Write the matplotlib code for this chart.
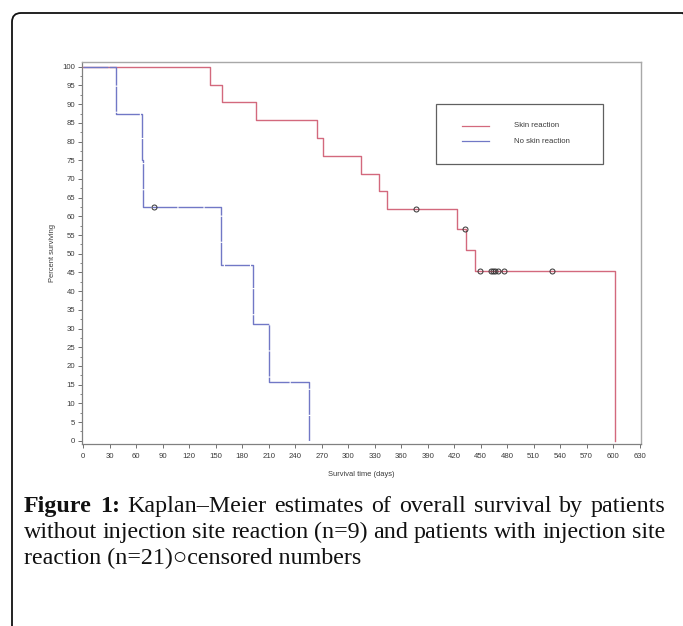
import matplotlib
matplotlib.use('Agg')
import matplotlib.pyplot as plt
from matplotlib.patches import FancyBboxPatch, Rectangle
from matplotlib.transforms import IdentityTransform
from matplotlib.ticker import MultipleLocator

# ---------------- data ----------------
skin_times = [0, 143, 157, 196, 265, 272, 315, 335, 344, 423, 433, 444, 602]
skin_surv = [100, 95.2, 90.5, 85.7, 81.0, 76.2, 71.4, 66.7, 61.9, 56.7, 51.1, 45.4, 0]
skin_cens_times = [377, 432, 449, 462, 464, 466, 470, 477, 531]
skin_cens_surv = [61.9, 56.7, 45.4, 45.4, 45.4, 45.4, 45.4, 45.4, 45.4]

noskin_times = [0, 37, 66, 68, 156, 192, 210, 256]
noskin_surv = [100, 87.5, 75, 62.5, 46.9, 31.3, 15.6, 0]
noskin_cens_times = [80]
noskin_cens_surv = [62.5]

series_labels = ["Skin reaction", "No skin reaction"]
x_ticks = list(range(0, 631, 30))
y_ticks = list(range(0, 101, 5))
x_label = "Survival time (days)"
y_label = "Percent surviving"
caption_lines = [
    "Figure 1: Kaplan\u2013Meier estimates of overall survival by patients",
    "without injection site reaction (n=9) and patients with injection site",
    "reaction (n=21)\u25cbcensored numbers",
]

# ---------------- styling ----------------
W, H = 683, 626
RED = '#D3697D'
BLUE = '#7178C6'
SANS = ['Liberation Sans', 'DejaVu Sans']
SERIF = ['Liberation Serif', 'DejaVu Serif']
TXT = '#3a3a3a'

fig = plt.figure(figsize=(W / 100, H / 100), dpi=100)
fig.patch.set_facecolor('white')

ax_left, ax_right, ax_top, ax_bot = 81.7, 641.0, 62.3, 444.3
ax = fig.add_axes([ax_left / W, (H - ax_bot) / H, (ax_right - ax_left) / W, (ax_bot - ax_top) / H])

ax.step(skin_times, skin_surv, where='post', color=RED, lw=1.0, zorder=3)
ax.step(noskin_times, noskin_surv, where='post', color=BLUE, lw=1.0,
        dashes=(18, 0.8), zorder=4)
ax.plot(skin_cens_times, skin_cens_surv, ls='none', marker='o', ms=3.6,
        mfc='none', mec='#333333', mew=0.7, zorder=5)
ax.plot(noskin_cens_times, noskin_cens_surv, ls='none', marker='o', ms=3.6,
        mfc='none', mec='#333333', mew=0.7, zorder=5)

ax.set_xlim(-1.8, 631.6)
ax.set_ylim(-0.96, 101.2)
ax.set_xticks(x_ticks)
ax.set_yticks(y_ticks)
ax.yaxis.set_minor_locator(MultipleLocator(2.5))
ax.tick_params(axis='both', which='major', direction='out', length=3, width=0.7,
               color='#707070', labelsize=5.6, labelcolor=TXT)
ax.tick_params(axis='y', which='minor', direction='out', length=1.8, width=0.6, color='#707070')
ax.tick_params(axis='x', pad=3.0)
ax.tick_params(axis='y', pad=1.5)
for lab in ax.get_xticklabels() + ax.get_yticklabels():
    lab.set_family(SANS)

for side in ['left', 'bottom']:
    ax.spines[side].set_color('#808080')
    ax.spines[side].set_linewidth(0.9)
for side in ['top', 'right']:
    ax.spines[side].set_color('#a8a8a8')
    ax.spines[side].set_linewidth(1.0)

ax.set_xlabel(x_label, fontsize=5.4, color=TXT, family=SANS, labelpad=8)
ax.set_ylabel(y_label, fontsize=5.4, color=TXT, family=SANS, labelpad=5)

# legend (manual SAS-like box)
def ax_x(px):
    return (px - ax_left) / (ax_right - ax_left)

def ax_y(py):
    return (ax_bot - py) / (ax_bot - ax_top)

lx0, lx1 = ax_x(436), ax_x(603.3)
ly0, ly1 = ax_y(163.7), ax_y(104)
ax.add_patch(Rectangle((lx0, ly0), lx1 - lx0, ly1 - ly0, transform=ax.transAxes,
                       fill=False, ec='#606060', lw=0.9, zorder=6))
for lab, col, py in zip(series_labels, [RED, BLUE], [126, 141.3]):
    ax.plot([ax_x(462), ax_x(489)], [ax_y(py), ax_y(py)], color=col, lw=0.9,
            transform=ax.transAxes, zorder=6)
    ax.text(ax_x(514.3), ax_y(py), lab, transform=ax.transAxes, fontsize=5.6,
            color=TXT, family=SANS, va='center', ha='left', zorder=6)

# outer rounded border
border = FancyBboxPatch((12, -40), 680, 613 + 40, boxstyle='round,pad=0,rounding_size=9',
                        transform=IdentityTransform(), fill=False, ec='#111111', lw=1.3,
                        figure=fig, clip_on=False)
fig.patches.append(border)

# caption with justified lines
renderer = fig.canvas.get_renderer()
probe = fig.text(0, 0, caption_lines[2], fontsize=10, family=SERIF)
w10 = probe.get_window_extent(renderer).width
probe.remove()
fs = 10 * 337.0 / w10

x0, x1 = 24.0, 665.5
baselines = [512, 538, 564]

def draw_justified(line, y_px, bold_words=0):
    words = line.split(' ')
    texts = []
    for i, wd in enumerate(words):
        t = fig.text(0, (H - y_px) / H, wd, fontsize=fs, family=SERIF,
                     fontweight='bold' if i < bold_words else 'normal',
                     va='baseline', ha='left', color='#111111')
        texts.append(t)
    widths = [t.get_window_extent(renderer).width for t in texts]
    gap = (x1 - x0 - sum(widths)) / (len(words) - 1)
    x = x0
    for t, wdt in zip(texts, widths):
        t.set_x(x / W)
        x += wdt + gap

draw_justified(caption_lines[0], baselines[0], bold_words=2)
draw_justified(caption_lines[1], baselines[1])
fig.text(x0 / W, (H - baselines[2]) / H, caption_lines[2], fontsize=fs, family=SERIF,
         va='baseline', ha='left', color='#111111')

fig.savefig('out.png', dpi=100)
